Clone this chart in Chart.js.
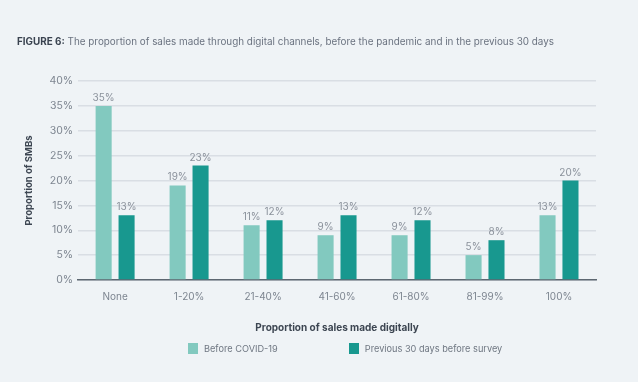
<!DOCTYPE html>
<html>
<head>
<meta charset="utf-8">
<script src="https://cdn.jsdelivr.net/npm/chart.js@4/dist/chart.umd.min.js"></script>
<style>
    html, body {
        margin: 0;
        padding: 0;
        background: #eff3f6;
        font-family: "Inter", "Noto Sans", sans-serif;
    }
    #wrap {
        position: relative;
        width: 638px;
        height: 382px;
    }
    #titulo {
        position: absolute;
        left: 17px;
        top: 35px;
        font-size: 9.9px;
        color: #6b7380;
        white-space: nowrap;
    }
    #titulo b {
        color: #3a4350;
    }
    #legenda {
        position: absolute;
        top: 343px;
        left: 188px;
        font-size: 9.2px;
        color: #6f7782;
        display: flex;
        align-items: center;
    }
    .caixa {
        display: inline-block;
        width: 10px;
        height: 11px;
        margin-right: 6px;
    }
    canvas {
        position: absolute;
        left: 0;
        top: 0;
    }
</style>
</head>
<body>
<div id="wrap">
    <canvas id="grafico" width="638" height="382"></canvas>
    <div id="titulo"><b>FIGURE 6:</b> The proportion of sales made through digital channels, before the pandemic and in the previous 30 days</div>
    <div id="legenda">
        <span class="caixa" style="background:#82c9bf"></span><span style="margin-right:71px">Before COVID-19</span>
        <span class="caixa" style="background:#18988f"></span><span>Previous 30 days before survey</span>
    </div>
</div>
<script>
const categorias = ["None", "1-20%", "21-40%", "41-60%", "61-80%", "81-99%", "100%"];
const antesCovid = [35, 19, 11, 9, 9, 5, 13];
const ultimos30 = [13, 23, 12, 13, 12, 8, 20];
const ticksY = [0, 5, 10, 15, 20, 25, 30, 35, 40];

const rotulos = {
    id: "rotulos",
    afterDatasetsDraw(chart) {
        const ctx = chart.ctx;
        ctx.save();
        ctx.font = "10px Inter, 'Noto Sans', sans-serif";
        ctx.fillStyle = "#8a919b";
        ctx.textAlign = "center";
        ctx.textBaseline = "bottom";
        chart.data.datasets.forEach(function (ds, i) {
            chart.getDatasetMeta(i).data.forEach(function (bar, j) {
                ctx.fillText(ds.data[j] + "%", bar.x, bar.y - 3);
            });
        });
        ctx.restore();
    }
};

document.addEventListener("DOMContentLoaded", function () {

    const canvas = document.getElementById("grafico");

    new Chart(canvas, {
        type: "bar",
        data: {
            labels: categorias,
            datasets: [{
                label: "Before COVID-19",
                data: antesCovid,
                backgroundColor: "#82c9bf",
                categoryPercentage: 0.62,
                barPercentage: 0.7
            }, {
                label: "Previous 30 days before survey",
                data: ultimos30,
                backgroundColor: "#18988f",
                categoryPercentage: 0.62,
                barPercentage: 0.7
            }]
        },
        plugins: [rotulos],
        options: {
            responsive: false,
            animation: false,
            layout: {
                padding: { top: 81, left: 19, right: 42, bottom: 44 }
            },
            plugins: {
                legend: { display: false },
                tooltip: { enabled: false }
            },
            scales: {
                x: {
                    grid: { display: false },
                    border: { display: true, color: "#5d6771", width: 1.5 },
                    ticks: {
                        color: "#7d8590",
                        font: { size: 10, family: "Inter" },
                        padding: 3
                    },
                    title: {
                        display: true,
                        text: "Proportion of sales made digitally",
                        color: "#3d4652",
                        font: { size: 10, weight: "bold", family: "Inter" },
                        padding: { top: 16, bottom: 4 }
                    }
                },
                y: {
                    min: 0,
                    max: 40,
                    afterBuildTicks: function (axis) {
                        axis.ticks = ticksY.map(function (v) { return { value: v }; });
                    },
                    grid: {
                        color: "#d9dee4",
                        lineWidth: 1.5,
                        drawTicks: false
                    },
                    border: { display: false },
                    ticks: {
                        color: "#7d8590",
                        font: { size: 10.5, family: "Inter" },
                        padding: 5,
                        callback: function (v) { return v + "%"; }
                    },
                    title: {
                        display: true,
                        text: "Proportion of SMBs",
                        color: "#3d4652",
                        font: { size: 9.5, weight: "bold", family: "Inter" },
                        padding: { top: 4, bottom: 10 }
                    }
                }
            }
        }
    });
});
</script>
</body>
</html>
